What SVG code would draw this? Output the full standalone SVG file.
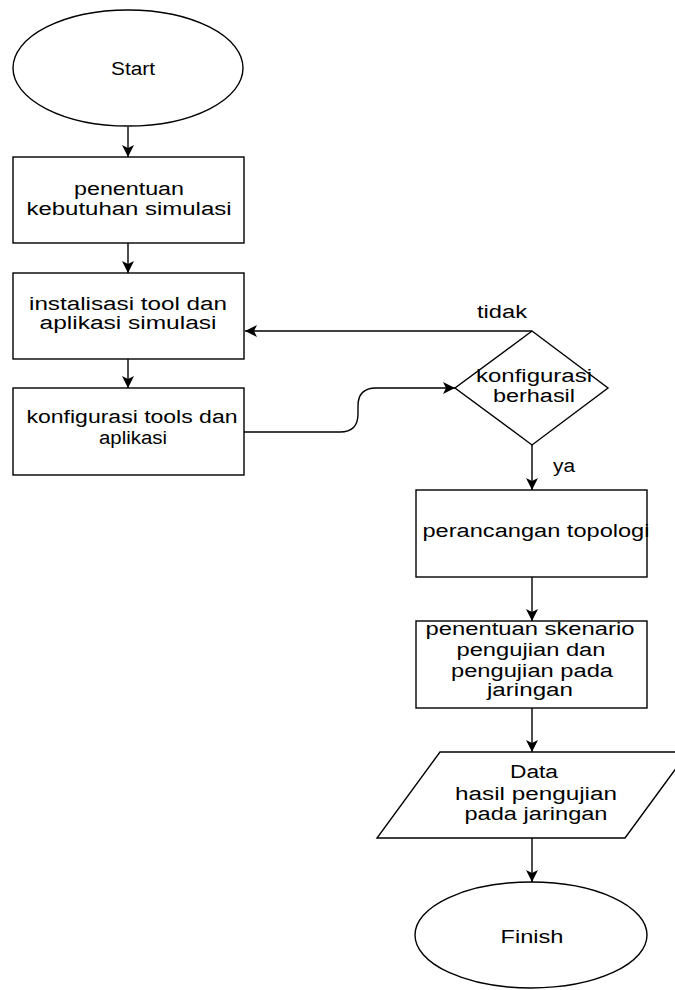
<svg xmlns="http://www.w3.org/2000/svg" width="675" height="990" viewBox="0 0 675 990">
<style>
.s{fill:#fff;stroke:#000;stroke-width:1.4}
.c{fill:none;stroke:#000;stroke-width:1.4}
text{font-family:"Liberation Sans",Arial,sans-serif;font-size:18px;fill:#000;text-anchor:middle}
</style>
<defs>
<marker id="a" markerUnits="userSpaceOnUse" markerWidth="12" markerHeight="12" refX="12" refY="6" orient="auto">
<path d="M0,0 L12,6 L0,12 L3,6 z" fill="#000"/>
</marker>
</defs>
<rect width="675" height="990" fill="#fff"/>
<g id="connectors">
<path class="c" d="M128,127 V157" marker-end="url(#a)"/>
<path class="c" d="M128,243 V273" marker-end="url(#a)"/>
<path class="c" d="M128,359 V388" marker-end="url(#a)"/>
<path class="c" d="M532,331 H245" marker-end="url(#a)"/>
<path class="c" d="M244,432 H340 Q358,432 358,414 V406 Q358,388 376,388 H455" marker-end="url(#a)"/>
<path class="c" d="M532,445 V490" marker-end="url(#a)"/>
<path class="c" d="M532,577 V621" marker-end="url(#a)"/>
<path class="c" d="M532,708 V752" marker-end="url(#a)"/>
<path class="c" d="M532,838 V882" marker-end="url(#a)"/>
<text x="502" y="318" textLength="50" lengthAdjust="spacingAndGlyphs">tidak</text>
<text x="564" y="472" textLength="22" lengthAdjust="spacingAndGlyphs">ya</text>
</g>
<g id="start">
<ellipse class="s" cx="128" cy="68" rx="115" ry="58"/>
<text x="133" y="75" textLength="44" lengthAdjust="spacingAndGlyphs">Start</text>
</g>
<g id="box1">
<rect class="s" x="13" y="157" width="231" height="86"/>
<text x="129" y="195" textLength="110" lengthAdjust="spacingAndGlyphs">penentuan</text>
<text x="129" y="215" textLength="205" lengthAdjust="spacingAndGlyphs">kebutuhan simulasi</text>
</g>
<g id="box2">
<rect class="s" x="13" y="273" width="231" height="86"/>
<text x="128" y="310" textLength="198" lengthAdjust="spacingAndGlyphs">instalisasi tool dan</text>
<text x="128" y="329" textLength="177" lengthAdjust="spacingAndGlyphs">aplikasi simulasi</text>
</g>
<g id="box3">
<rect class="s" x="13" y="388" width="231" height="87"/>
<text x="132" y="423" textLength="211" lengthAdjust="spacingAndGlyphs">konfigurasi tools dan</text>
<text x="133" y="444" textLength="68" lengthAdjust="spacingAndGlyphs">aplikasi</text>
</g>
<g id="decision">
<polygon class="s" points="532,331 608,388 532,445 455,388"/>
<text x="534" y="382" textLength="116" lengthAdjust="spacingAndGlyphs">konfigurasi</text>
<text x="534" y="402" textLength="82" lengthAdjust="spacingAndGlyphs">berhasil</text>
</g>
<g id="box4">
<rect class="s" x="416" y="490" width="231" height="87"/>
<text x="536" y="537" textLength="227" lengthAdjust="spacingAndGlyphs">perancangan topologi</text>
</g>
<g id="box5">
<rect class="s" x="416" y="621" width="231" height="87"/>
<text x="530" y="635" textLength="209" lengthAdjust="spacingAndGlyphs">penentuan skenario</text>
<text x="531" y="656" textLength="149" lengthAdjust="spacingAndGlyphs">pengujian dan</text>
<text x="532" y="677" textLength="162" lengthAdjust="spacingAndGlyphs">pengujian pada</text>
<text x="530" y="696" textLength="86" lengthAdjust="spacingAndGlyphs">jaringan</text>
</g>
<g id="data">
<polygon class="s" points="440,752 688,752 625,838 377,838"/>
<text x="534" y="778" textLength="48" lengthAdjust="spacingAndGlyphs">Data</text>
<text x="536" y="800" textLength="162" lengthAdjust="spacingAndGlyphs">hasil pengujian</text>
<text x="536" y="820" textLength="143" lengthAdjust="spacingAndGlyphs">pada jaringan</text>
</g>
<g id="finish">
<ellipse class="s" cx="531" cy="935" rx="116" ry="53"/>
<text x="532" y="943" textLength="63" lengthAdjust="spacingAndGlyphs">Finish</text>
</g>
</svg>
